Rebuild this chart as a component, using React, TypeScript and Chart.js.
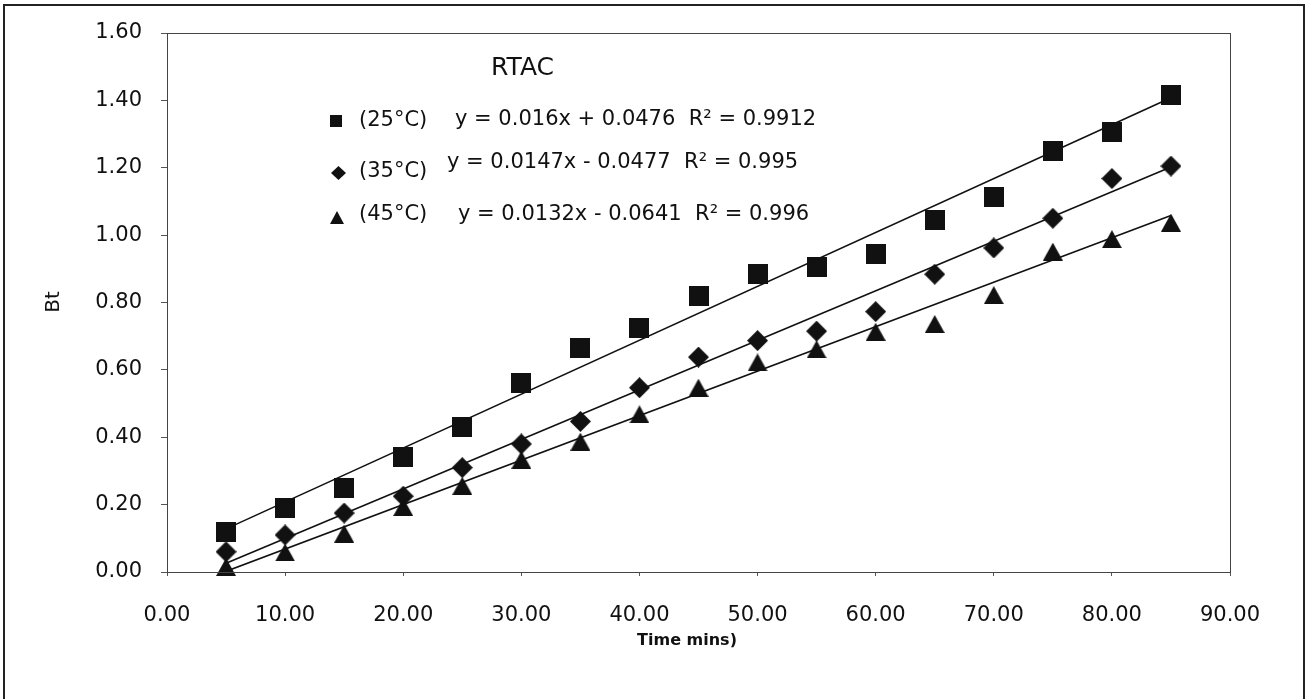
import React, { useEffect, useRef } from "react";
import { Chart, registerables } from "chart.js";

Chart.register(...registerables);

const timeMins = [5, 10, 15, 20, 25, 30, 35, 40, 45, 50, 55, 60, 65, 70, 75, 80, 85];
const bt25 = [0.12, 0.19, 0.25, 0.34, 0.43, 0.56, 0.666, 0.725, 0.82, 0.885, 0.905, 0.945, 1.044, 1.112, 1.249, 1.306, 1.415];
const bt35 = [0.06, 0.11, 0.175, 0.225, 0.31, 0.38, 0.447, 0.547, 0.638, 0.687, 0.715, 0.773, 0.884, 0.962, 1.05, 1.168, 1.205];
const bt45 = [0.015, 0.058, 0.114, 0.193, 0.256, 0.333, 0.387, 0.468, 0.547, 0.622, 0.661, 0.713, 0.736, 0.822, 0.951, 0.988, 1.037];

const trendX = [5, 85];
const trend25Y = [0.128, 1.408];
const trend35Y = [0.026, 1.202];
const trend45Y = [0.002, 1.058];

const xTicks = [0, 10, 20, 30, 40, 50, 60, 70, 80, 90];
const yTicks = [0, 0.2, 0.4, 0.6, 0.8, 1.0, 1.2, 1.4, 1.6];

const seriesLabels = ["(25°C)", "(35°C)", "(45°C)"];
const equations = [
  "y = 0.016x + 0.0476  R² = 0.9912",
  "y = 0.0147x - 0.0477  R² = 0.995",
  "y = 0.0132x - 0.0641  R² = 0.996",
];
const chartTitle = "RTAC";
const xTitle = "Time mins)";
const yTitle = "Bt";

const FONT = "'DejaVu Sans', sans-serif";
const INK = "#111";

function makeMarker(kind: string, w: number, h: number): HTMLCanvasElement {
  const c = document.createElement("canvas");
  c.width = w;
  c.height = h;
  const g = c.getContext("2d")!;
  g.fillStyle = INK;
  g.beginPath();
  if (kind === "square") {
    g.rect(0, 0, w, h);
  } else if (kind === "diamond") {
    g.moveTo(w / 2, 0);
    g.lineTo(w, h / 2);
    g.lineTo(w / 2, h);
    g.lineTo(0, h / 2);
    g.closePath();
  } else {
    g.moveTo(w / 2, 0);
    g.lineTo(w, h);
    g.lineTo(0, h);
    g.closePath();
  }
  g.fill();
  return c;
}

function pts(xs: number[], ys: number[]) {
  return xs.map((x, i) => ({ x, y: ys[i] }));
}

const overlay = {
  id: "overlay",
  afterDraw(chart: any) {
    const ctx = chart.ctx as CanvasRenderingContext2D;
    const a = chart.chartArea;
    ctx.save();
    // outer frame
    ctx.strokeStyle = "#222";
    ctx.lineWidth = 2;
    ctx.strokeRect(4, 5, 1300, 700);
    // plot frame
    ctx.strokeStyle = "#444";
    ctx.lineWidth = 1;
    ctx.strokeRect(Math.round(a.left) + 0.5, Math.round(a.top) + 0.5, Math.round(a.right - a.left), Math.round(a.bottom - a.top));

    ctx.fillStyle = INK;
    ctx.textBaseline = "middle";
    ctx.textAlign = "left";
    // title
    ctx.font = `25px ${FONT}`;
    ctx.fillText(chartTitle, 491, 68);

    // legend
    ctx.font = `21px ${FONT}`;
    const rowsLabelY = [121, 172, 215];
    const rowsEqY = [120, 163, 215];
    const eqX = [455, 447, 458];
    for (let i = 0; i < 3; i++) {
      ctx.fillText(seriesLabels[i], 359, rowsLabelY[i]);
      ctx.fillText(equations[i], eqX[i], rowsEqY[i]);
    }
    ctx.drawImage(legendMarkers[0], 330, 115);
    ctx.drawImage(legendMarkers[1], 331, 166);
    ctx.drawImage(legendMarkers[2], 330, 211);

    // axis titles
    ctx.textAlign = "center";
    ctx.font = `bold 16px ${FONT}`;
    ctx.fillText(xTitle, 687, 641);
    ctx.save();
    ctx.translate(54, 302);
    ctx.rotate(-Math.PI / 2);
    ctx.font = `20px ${FONT}`;
    ctx.fillText(yTitle, 0, 0);
    ctx.restore();
    ctx.restore();
  },
};

const legendMarkers = [
  makeMarker("square", 12, 12),
  makeMarker("diamond", 15, 14),
  makeMarker("triangle", 14, 13),
];

export default function App() {
  const ref = useRef<HTMLCanvasElement | null>(null);
  useEffect(() => {
    const sq = makeMarker("square", 20, 20);
    const di = makeMarker("diamond", 21, 21);
    const tr = makeMarker("triangle", 20, 18);
    const markerDs = (data: any, img: HTMLCanvasElement) => ({
      data,
      showLine: false,
      pointStyle: img,
      pointRadius: 10,
      pointHoverRadius: 10,
      backgroundColor: INK,
      borderColor: INK,
      clip: false,
      order: 1,
    });
    const lineDs = (data: any) => ({
      data,
      showLine: true,
      pointRadius: 0,
      borderColor: "#111",
      borderWidth: 1.6,
      fill: false,
      order: 0,
    });
    const chart = new Chart(ref.current!, {
      type: "scatter",
      data: {
        datasets: [
          markerDs(pts(timeMins, bt25), sq),
          markerDs(pts(timeMins, bt35), di),
          markerDs(pts(timeMins, bt45), tr),
          lineDs(pts(trendX, trend25Y)),
          lineDs(pts(trendX, trend35Y)),
          lineDs(pts(trendX, trend45Y)),
        ] as any,
      },
      options: {
        responsive: false,
        animation: false,
        devicePixelRatio: 1,
        layout: { padding: { left: 0, top: 33, right: 81, bottom: 0 } },
        plugins: { legend: { display: false }, tooltip: { enabled: false } },
        scales: {
          x: {
            type: "linear",
            min: 0,
            max: 90,
            afterFit: (s: any) => {
              s.height = 127;
            },
            afterBuildTicks: (s: any) => {
              s.ticks = xTicks.map((v) => ({ value: v }));
            },
            ticks: {
              callback: (v: any) => Number(v).toFixed(2),
              font: { family: FONT, size: 21 },
              color: INK,
              padding: 27,
              maxRotation: 0,
              autoSkip: false,
            },
            grid: { drawOnChartArea: false, drawTicks: true, tickLength: 4, color: "#555" },
            border: { display: false },
          },
          y: {
            type: "linear",
            min: 0,
            max: 1.6,
            afterFit: (s: any) => {
              s.width = 167;
            },
            afterBuildTicks: (s: any) => {
              s.ticks = yTicks.map((v) => ({ value: v }));
            },
            ticks: {
              callback: (v: any) => Number(v).toFixed(2),
              font: { family: FONT, size: 21 },
              color: INK,
              padding: 19,
              autoSkip: false,
            },
            grid: { drawOnChartArea: false, drawTicks: true, tickLength: 6, color: "#555" },
            border: { display: false },
          },
        },
      } as any,
      plugins: [overlay],
    });
    return () => chart.destroy();
  }, []);
  return (
    <div style={{ position: "fixed", left: 0, top: 0, width: 1311, height: 699, background: "#fff" }}>
      <canvas ref={ref} width={1311} height={699} style={{ display: "block" }} />
    </div>
  );
}
